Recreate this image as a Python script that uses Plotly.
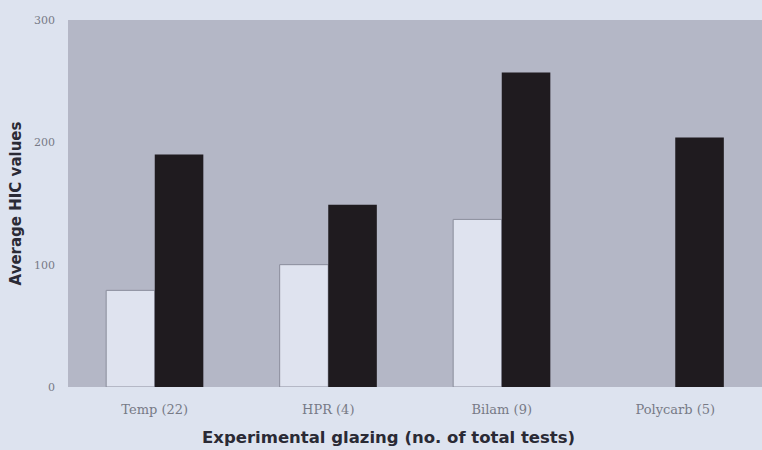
import plotly.graph_objects as go

categories = ["Temp (22)", "HPR (4)", "Bilam (9)", "Polycarb (5)"]
light_values = [79, 100, 137, None]
dark_values = [190, 149, 257, 204]
y_ticks = [0, 100, 200, 300]

fig = go.Figure()
fig.add_trace(go.Bar(x=categories, y=light_values, marker=dict(color="#dfe3ef", line=dict(color="#8a8d9c", width=1)), showlegend=False))
fig.add_trace(go.Bar(x=categories, y=dark_values, marker=dict(color="#1f1b1f", line=dict(width=0)), showlegend=False))

fig.update_layout(
    width=762, height=450,
    margin=dict(l=68, r=0, t=20, b=63),
    paper_bgcolor="#dde3ef",
    plot_bgcolor="#b4b7c6",
    barmode="group",
    bargap=0.44,
    bargroupgap=0,
    xaxis=dict(
        showgrid=False, showline=False, ticks="",
        tickfont=dict(family="DejaVu Serif", size=13, color="#777a86"),
        ticklabelstandoff=13,
    ),
    yaxis=dict(
        range=[0, 300], tickvals=y_ticks, showgrid=False, zeroline=False, showline=False, ticks="",
        tickfont=dict(family="DejaVu Serif", size=11, color="#777a86"),
        ticklabelstandoff=12,
        title=dict(text="<b>Average HIC values</b>",
                   font=dict(family="DejaVu Sans", size=15, color="#2a2a35"), standoff=8),
    ),
    annotations=[dict(
        text="<b>Experimental glazing (no. of total tests)</b>",
        xref="paper", yref="paper", x=0.4625, y=0, yshift=-50,
        xanchor="center", yanchor="middle", showarrow=False,
        font=dict(family="DejaVu Sans", size=16.5, color="#2a2a35"),
    )],
)

fig.write_html("out.html", post_script="document.body.style.margin='0';",
               config={"displayModeBar": False})
